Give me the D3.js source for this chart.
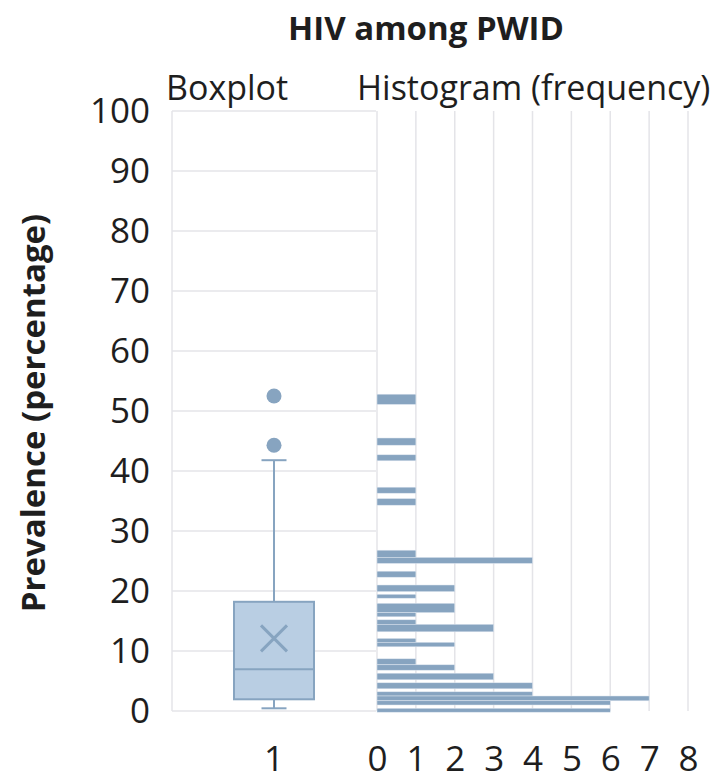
<!DOCTYPE html>
<html>
<head>
<meta charset="utf-8">
<script src="https://cdn.jsdelivr.net/npm/d3@7"></script>
<style>
  body { margin: 0; background: #fff; }
  text { font-family: "Open Sans", sans-serif; fill: #1e1e1e; }
</style>
</head>
<body>
<div id="chart"></div>
<script>
// histogram bins (prevalence range, frequency)
var binLo = [51.1, 44.3, 41.7, 36.3, 34.3, 25.6, 24.6, 22.3, 19.9, 18.8, 16.4, 15.7,
             14.45, 13.2, 11.45, 10.7, 7.7, 6.8, 5.2, 3.7, 2.5, 1.7, 1.0, -0.2];
var binHi = [52.8, 45.5, 42.7, 37.3, 35.4, 26.8, 25.6, 23.3, 21.0, 19.45, 17.95, 16.4,
             15.2, 14.45, 12.1, 11.45, 8.7, 7.7, 6.3, 4.7, 3.2, 2.5, 1.7, 0.45];
var counts = [1, 1, 1, 1, 1, 1, 4, 1, 2, 1, 2, 1, 1, 3, 1, 2, 1, 2, 3, 4, 4, 7, 6, 6];

// boxplot summary
var boxCategories = ["1"];
var boxStats = { min: 0.45, q1: 1.95, median: 6.95, q3: 18.2, max: 41.8, mean: 12.1 };
var outliers = [52.5, 44.3];

var yTicks = [0, 10, 20, 30, 40, 50, 60, 70, 80, 90, 100];
var freqTicks = [0, 1, 2, 3, 4, 5, 6, 7, 8];

var width = 726, height = 782;
var gridColor = "#e4e4e8";
var barColor = "#87a4c0";
var boxFill = "#b9cee3";

var svg = d3.select("#chart").append("svg")
    .attr("width", width)
    .attr("height", height);

var y = d3.scaleLinear().domain([0, 100]).range([711, 111]);
var xBox = d3.scaleBand().domain(boxCategories).range([172, 376]);
var xHist = d3.scaleLinear().domain([0, 8]).range([377, 688]);

// title + panel headers
svg.append("text")
    .attr("x", 426).attr("y", 40)
    .attr("text-anchor", "middle")
    .style("font-weight", "bold")
    .style("font-size", "33px")
    .text("HIV among PWID");

svg.append("text")
    .attr("x", 166).attr("y", 100)
    .style("font-size", "34px")
    .text("Boxplot");

svg.append("text")
    .attr("x", 357).attr("y", 100)
    .style("font-size", "34px")
    .text("Histogram (frequency)");

// y axis title
svg.append("text")
    .attr("transform", "translate(45,413) rotate(-90)")
    .attr("text-anchor", "middle")
    .style("font-weight", "bold")
    .style("font-size", "33px")
    .text("Prevalence (percentage)");

// y axis (labels only, gridlines drawn on the box panel)
var yAxis = svg.append("g")
    .attr("transform", "translate(172,0)")
    .call(d3.axisLeft(y).tickValues(yTicks).tickSize(0).tickPadding(22));
yAxis.select(".domain").remove();

// box panel grid
svg.append("g").selectAll("line")
    .data(yTicks)
    .enter()
    .append("line")
    .attr("x1", 172).attr("x2", 376)
    .attr("y1", function (d) { return y(d); })
    .attr("y2", function (d) { return y(d); })
    .attr("stroke", gridColor)
    .attr("stroke-width", 1.5);

svg.append("line")
    .attr("x1", 172).attr("x2", 172)
    .attr("y1", y(100)).attr("y2", y(0))
    .attr("stroke", gridColor)
    .attr("stroke-width", 1.5);

// histogram grid
svg.append("g").selectAll("line")
    .data(freqTicks)
    .enter()
    .append("line")
    .attr("x1", function (d) { return xHist(d); })
    .attr("x2", function (d) { return xHist(d); })
    .attr("y1", y(100)).attr("y2", y(0))
    .attr("stroke", gridColor)
    .attr("stroke-width", 1.5);

// x axis labels
var xb = svg.append("g")
    .attr("transform", "translate(0,714)")
    .call(d3.axisBottom(xBox).tickSize(0).tickPadding(32));
xb.select(".domain").remove();

var xh = svg.append("g")
    .attr("transform", "translate(0,714)")
    .call(d3.axisBottom(xHist).tickValues(freqTicks).tickFormat(d3.format("d")).tickSize(0).tickPadding(32));
xh.select(".domain").remove();

svg.selectAll(".tick text")
    .style("font-size", "35px")
    .style("font-family", "'Open Sans', sans-serif")
    .attr("fill", "#1e1e1e");

// histogram bars
var bins = counts.map(function (c, i) {
    return { lo: binLo[i], hi: binHi[i], count: c };
});

svg.append("g").selectAll("rect")
    .data(bins)
    .enter()
    .append("rect")
    .attr("x", xHist(0))
    .attr("y", function (d) { return y(d.hi); })
    .attr("width", function (d) { return xHist(d.count) - xHist(0); })
    .attr("height", function (d) { return y(d.lo) - y(d.hi); })
    .attr("fill", barColor)
    .attr("stroke", "#dde6ef")
    .attr("stroke-width", 0.5);

// boxplot
var cx = xBox("1") + xBox.bandwidth() / 2;
var boxW = 80, capW = 25;
var box = svg.append("g")
    .attr("stroke", barColor)
    .attr("stroke-width", 2);

box.append("line")
    .attr("x1", cx).attr("x2", cx)
    .attr("y1", y(boxStats.max)).attr("y2", y(boxStats.q3));
box.append("line")
    .attr("x1", cx).attr("x2", cx)
    .attr("y1", y(boxStats.q1)).attr("y2", y(boxStats.min));
box.append("line")
    .attr("x1", cx - capW / 2).attr("x2", cx + capW / 2)
    .attr("y1", y(boxStats.max)).attr("y2", y(boxStats.max));
box.append("line")
    .attr("x1", cx - capW / 2).attr("x2", cx + capW / 2)
    .attr("y1", y(boxStats.min)).attr("y2", y(boxStats.min));
box.append("rect")
    .attr("x", cx - boxW / 2)
    .attr("y", y(boxStats.q3))
    .attr("width", boxW)
    .attr("height", y(boxStats.q1) - y(boxStats.q3))
    .attr("fill", boxFill);
box.append("line")
    .attr("x1", cx - boxW / 2).attr("x2", cx + boxW / 2)
    .attr("y1", y(boxStats.median)).attr("y2", y(boxStats.median));

// mean marker
var my = y(boxStats.mean), m = 13;
box.append("path")
    .attr("d", "M" + (cx - m) + "," + (my - m) + "L" + (cx + m) + "," + (my + m) +
               "M" + (cx - m) + "," + (my + m) + "L" + (cx + m) + "," + (my - m))
    .attr("stroke-width", 3)
    .attr("fill", "none");

// outliers
svg.append("g").selectAll("circle")
    .data(outliers)
    .enter()
    .append("circle")
    .attr("cx", cx)
    .attr("cy", function (d) { return y(d); })
    .attr("r", 7.5)
    .attr("fill", barColor);
</script>
</body>
</html>
